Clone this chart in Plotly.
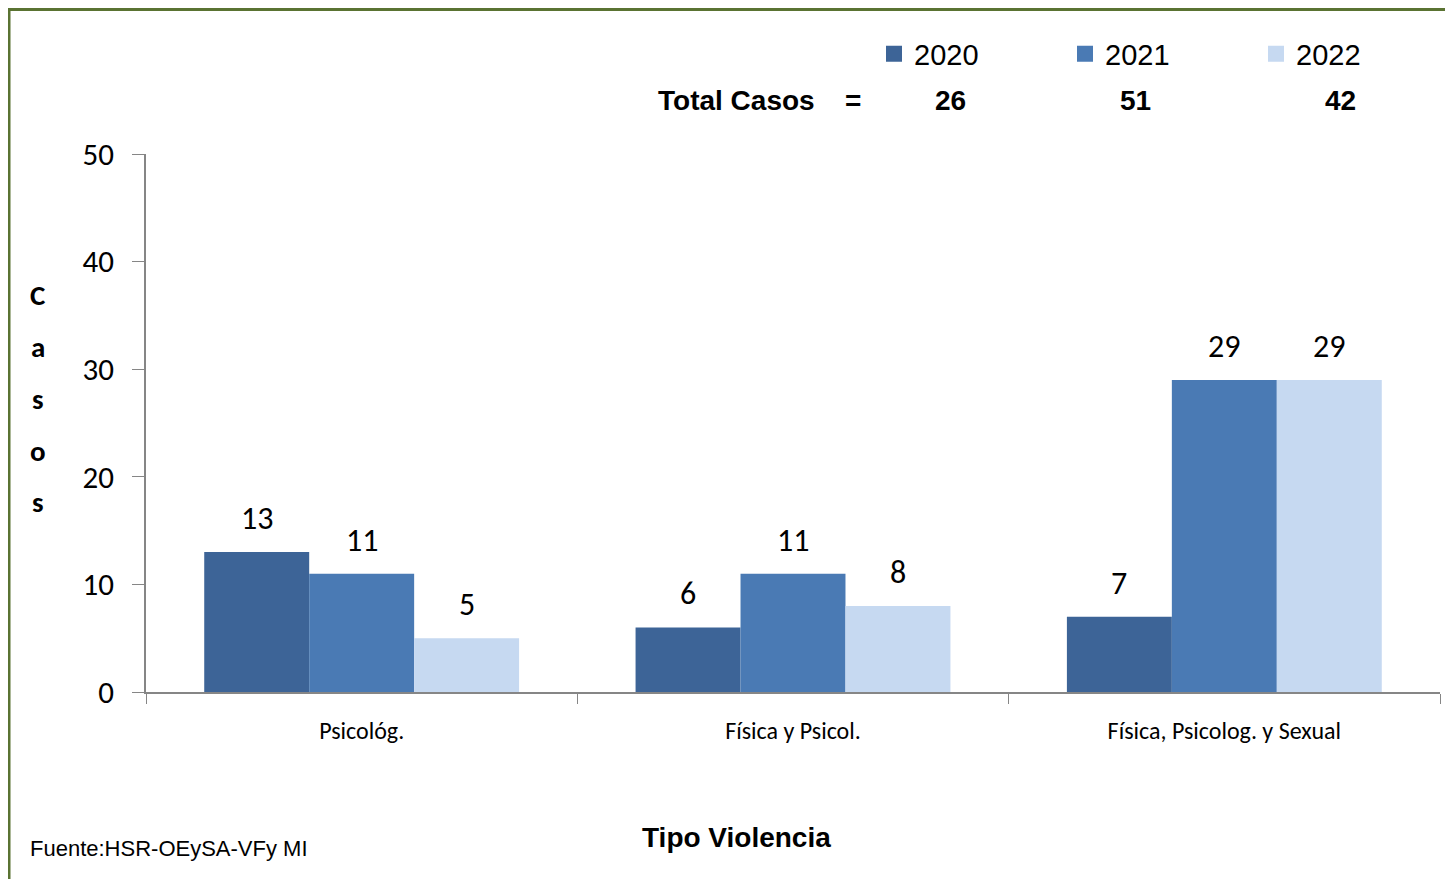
import plotly.graph_objects as go

# data
categorias = ["Psicológ.", "Física y Psicol.", "Física, Psicolog. y Sexual"]
anios = ["2020", "2021", "2022"]
casos_2020 = [13, 6, 7]
casos_2021 = [11, 11, 29]
casos_2022 = [5, 8, 29]
colores = ["#3D6497", "#4A7AB4", "#C6D9F1"]

# la página tiene 8px de margen en el body
OFF = 8
W, H = 1453, 879
L, R, T, B = 146 - OFF, W - (1440 - OFF), 154 - OFF, H - (692 - OFF)
pw, ph = W - L - R, H - T - B
BARGAP = 0.27


def px(x):
    return (x - OFF - L) / pw


def py(y):
    return (H - B - (y - OFF)) / ph


calibri = "Carlito, Calibri, Lato, sans-serif"
arial = "Liberation Sans Narrow, Arial Narrow, Liberation Sans, Arial, sans-serif"

series = [casos_2020, casos_2021, casos_2022]
fig = go.Figure()
for anio, vals, col in zip(anios, series, colores):
    fig.add_trace(go.Bar(x=categorias, y=vals, name=anio, marker_color=col,
                         marker_line_width=0, showlegend=False))
    # entrada de leyenda con cuadrado grande
    fig.add_trace(go.Scatter(x=[None], y=[None], mode="markers", name=anio,
                             marker=dict(symbol="square", size=16, color=col)))

# etiquetas de valor sobre cada barra
bar_px = pw / len(categorias) * (1 - BARGAP) / len(anios)
annots = []
for i, vals in enumerate(series):
    for cat, v in zip(categorias, vals):
        annots.append(dict(x=cat, y=v, xref="x", yref="y", text=str(v),
                           xshift=(i - 1) * bar_px, yshift=12, yanchor="bottom",
                           showarrow=False,
                           font=dict(family=calibri, size=32, color="black")))

# totales por año
totales = [sum(v) for v in series]
extra = [
    dict(x=px(736), y=py(101), text="<b>Total Casos</b>", font=dict(family=arial, size=28)),
    dict(x=px(853), y=py(101), text="<b>=</b>", font=dict(family=arial, size=28)),
]
for xc, t in zip([950, 1135, 1340], totales):
    extra.append(dict(x=px(xc), y=py(101), text=f"<b>{t}</b>", font=dict(family=arial, size=28)))
for letra, yc in zip("Casos", [295, 347, 399, 451, 502]):
    extra.append(dict(x=px(38), y=py(yc), text=f"<b>{letra}</b>",
                      font=dict(family=calibri, size=29)))
extra += [
    dict(x=px(736), y=py(838), text="<b>Tipo Violencia</b>", font=dict(family=arial, size=28)),
    dict(x=px(28), y=py(848), text="Fuente:HSR-OEySA-VFy MI", xanchor="left",
         font=dict(family=arial, size=22)),
]
for a in extra:
    a.setdefault("xanchor", "center")
    a.update(xref="paper", yref="paper", yanchor="middle", showarrow=False)
    a["font"]["color"] = "black"
annots += extra

fig.update_layout(
    width=W, height=H,
    margin=dict(l=L, r=R, t=T, b=B, autoexpand=False),
    paper_bgcolor="white", plot_bgcolor="white",
    barmode="group", bargap=BARGAP, bargroupgap=0,
    font=dict(family=calibri, color="black"),
    legend=dict(orientation="h", x=px(874), y=py(54), xanchor="left", yanchor="middle",
                entrywidth=146, font=dict(family=arial, size=29), itemwidth=30,
                traceorder="normal", itemsizing="trace", bgcolor="rgba(0,0,0,0)"),
    annotations=annots,
    shapes=[dict(type="rect", xref="paper", yref="paper",
                 x0=px(9), x1=px(1475), y0=py(900), y1=py(9.5),
                 line=dict(color="#5A7332", width=3))],
    xaxis=dict(showline=True, linecolor="#868686", linewidth=1.5, ticks="outside",
               tickson="boundaries", ticklen=10, tickcolor="#868686",
               tickfont=dict(family=calibri, size=24), showgrid=False,
               ticklabelstandoff=16),
    yaxis=dict(range=[0, 50], dtick=10, showline=True, linecolor="#868686", linewidth=1.5,
               ticks="outside", ticklen=12, tickcolor="#868686", showgrid=False,
               zeroline=False, tickfont=dict(family=calibri, size=31),
               ticklabelstandoff=12),
)

fig.write_html("out.html")
